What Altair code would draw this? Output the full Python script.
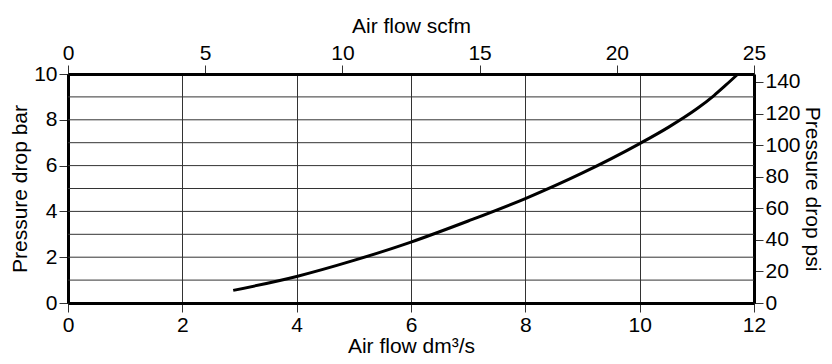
import altair as alt
import pandas as pd

# Data
flow_dm3s = [2.89, 4.0, 5.0, 6.0, 7.0, 8.0, 9.0, 10.0, 10.5, 11.0, 11.3, 11.5, 11.72]
drop_bar = [0.55, 1.16, 1.86, 2.66, 3.58, 4.56, 5.68, 6.96, 7.67, 8.48, 9.06, 9.5, 10.0]
grid_bar = [1, 2, 3, 4, 5, 6, 7, 8, 9]
x_ticks = [0, 2, 4, 6, 8, 10, 12]
y_ticks = [0, 2, 4, 6, 8, 10]
scfm_range = [0, 25]
scfm_ticks = [0, 5, 10, 15, 20, 25]
psi_range = [0, 145.04]
psi_ticks = [0, 20, 40, 60, 80, 100, 120, 140]

FONT = "Liberation Sans"
W, H = 686, 229

ax = dict(
    labelFont=FONT, titleFont=FONT, labelFontSize=21, titleFontSize=21,
    labelColor="black", titleColor="black", titleFontWeight="normal",
    domainColor="black", domainWidth=3, tickColor="#333", tickWidth=1,
    tickSize=9, labelPadding=2, labelFlush=False, labelOverlap=False,
)

curve = pd.DataFrame({"flow": flow_dm3s, "bar": drop_bar})
xscale = alt.Scale(domain=[0, 12], nice=False)
yscale = alt.Scale(domain=[0, 10], nice=False)

x_axis = alt.Axis(orient="bottom", values=x_ticks, grid=True, gridColor="#333",
                  gridWidth=1, title="Air flow dm³/s", titlePadding=0, **ax)
y_axis = alt.Axis(orient="left", values=y_ticks, grid=False,
                  title="Pressure drop bar", titlePadding=3, **ax)

hgrid = alt.Chart(pd.DataFrame({"bar": grid_bar})).mark_rule(
    color="#333", strokeWidth=1
).encode(y=alt.Y("bar:Q", scale=yscale, axis=y_axis))

line = alt.Chart(curve).mark_line(
    color="black", strokeWidth=3, interpolate="monotone"
).encode(
    x=alt.X("flow:Q", scale=xscale, axis=x_axis),
    y=alt.Y("bar:Q", scale=yscale, axis=y_axis),
)

sec = alt.Chart(pd.DataFrame({"scfm": scfm_range, "psi": psi_range})).mark_point(
    opacity=0
).encode(
    x=alt.X("scfm:Q", scale=alt.Scale(domain=scfm_range, nice=False), axis=alt.Axis(
        orient="top", values=scfm_ticks, grid=False,
        title="Air flow scfm", titlePadding=6, **ax)),
    y=alt.Y("psi:Q", scale=alt.Scale(domain=psi_range, nice=False), axis=alt.Axis(
        orient="right", values=psi_ticks, grid=False,
        title="Pressure drop psi", titlePadding=1, **ax)),
)

chart = alt.layer(alt.layer(hgrid, line), sec).resolve_scale(
    x="independent", y="independent"
).properties(
    width=W, height=H,
    autosize=alt.AutoSizeParams(type="none"),
    padding={"left": 60, "top": 66, "right": 70, "bottom": 53},
    background="white",
).configure_view(stroke=None)

chart.save("out.html", embed_options={"renderer": "svg", "actions": False})
